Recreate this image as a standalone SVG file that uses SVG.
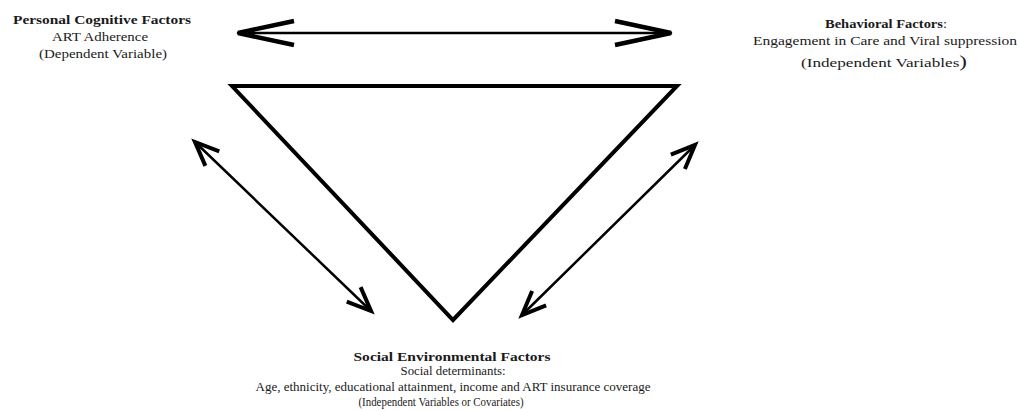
<svg xmlns="http://www.w3.org/2000/svg" width="1020" height="411" viewBox="0 0 1020 411">
<style>
  text { font-family: "Liberation Serif", "Times New Roman", serif; font-size: 12px; fill: #1a1a1a; text-anchor: middle; }
  .b { font-weight: bold; }
  .conn { stroke: #000; fill: none; stroke-linecap: round; }
  .tri { stroke: #000; stroke-width: 4; fill: none; stroke-linejoin: miter; }
</style>
<defs>
  <marker id="bigHead" markerUnits="userSpaceOnUse" viewBox="-60 -16 64 32" markerWidth="64" markerHeight="32" refX="0" refY="0" orient="auto-start-reverse" overflow="visible">
    <path d="M-56,-12 L0,0 L-56,12" fill="none" stroke="#000" stroke-width="4.5" stroke-linejoin="miter" stroke-linecap="butt"/>
  </marker>
  <marker id="smallHead" markerUnits="userSpaceOnUse" viewBox="-30 -14 34 28" markerWidth="34" markerHeight="28" refX="0" refY="0" orient="auto-start-reverse" overflow="visible">
    <path d="M-24,-10 L0,0 L-24,10" fill="none" stroke="#000" stroke-width="4" stroke-linejoin="miter" stroke-linecap="butt"/>
  </marker>
</defs>

<g id="triangle">
  <polygon class="tri" points="232,86 677,86 453,320"/>
</g>

<g id="connectors">
  <line class="conn" x1="238" y1="33" x2="671" y2="33" stroke-width="2.5" marker-start="url(#bigHead)" marker-end="url(#bigHead)"/>
  <line class="conn" x1="195" y1="142" x2="371" y2="311" stroke-width="2.5" marker-start="url(#smallHead)" marker-end="url(#smallHead)"/>
  <line class="conn" x1="695" y1="145" x2="522" y2="315" stroke-width="2.5" marker-start="url(#smallHead)" marker-end="url(#smallHead)"/>
</g>

<g id="personal">
  <text class="b" x="102" y="24" textLength="178" lengthAdjust="spacingAndGlyphs">Personal Cognitive Factors</text>
  <text x="100" y="41" textLength="96" lengthAdjust="spacingAndGlyphs">ART Adherence</text>
  <text x="103" y="58" textLength="128" lengthAdjust="spacingAndGlyphs">(Dependent  Variable)</text>
</g>

<g id="behavioral">
  <text x="886" y="28" textLength="122" lengthAdjust="spacingAndGlyphs"><tspan class="b">Behavioral Factors</tspan>:</text>
  <text x="885" y="45" textLength="264" lengthAdjust="spacingAndGlyphs">Engagement  in  Care and Viral  suppression</text>
  <text x="884" y="67" textLength="166" lengthAdjust="spacingAndGlyphs">(Independent  Variables<tspan font-size="16">)</tspan></text>
</g>

<g id="social">
  <text class="b" x="452" y="361" textLength="197" lengthAdjust="spacingAndGlyphs">Social Environmental  Factors</text>
  <text x="453" y="375" textLength="105" lengthAdjust="spacingAndGlyphs">Social  determinants:</text>
  <text x="453" y="391" textLength="395" lengthAdjust="spacingAndGlyphs">Age,  ethnicity,  educational  attainment,  income  and ART insurance  coverage</text>
  <text x="441" y="406" font-size="11" textLength="165" lengthAdjust="spacingAndGlyphs">(Independent  Variables  or Covariates)</text>
</g>
</svg>
